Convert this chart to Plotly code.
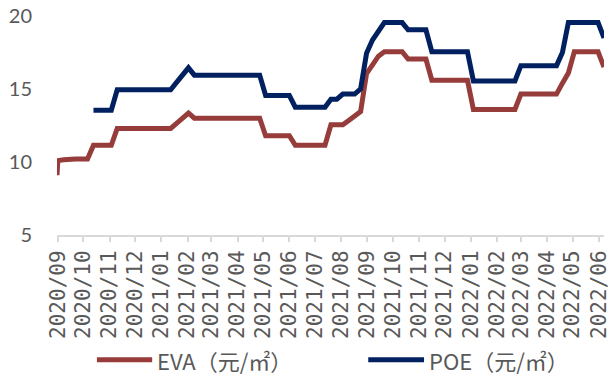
import pandas as pd
import plotly.graph_objects as go

# Weekly price observations (元/m²), one value per week starting 2020-09-01
week_dates = pd.date_range("2020-09-01", periods=93, freq="7D")

# EVA has one extra observation the day before the weekly series begins
eva_first_date = "2020-08-31"
eva_first_value = 9.1

eva_values = [
    10.1, 10.15, 10.2, 10.2, 10.2, 10.2,
    11.15, 11.15, 11.15, 11.15,
    12.3, 12.3, 12.3, 12.3, 12.3, 12.3, 12.3, 12.3, 12.3, 12.3,
    12.65, 13.0, 13.35,
    13.0, 13.0, 13.0, 13.0, 13.0, 13.0, 13.0, 13.0, 13.0, 13.0, 13.0, 13.0,
    11.8, 11.8, 11.8, 11.8, 11.8,
    11.15, 11.15, 11.15, 11.15, 11.15, 11.15,
    12.55, 12.55, 12.55,
    12.85, 13.2, 13.45,
    16.05,
    16.7, 17.25,
    17.55, 17.55, 17.55, 17.55,
    17.05, 17.05, 17.05, 17.05,
    15.6, 15.6, 15.6, 15.6, 15.6, 15.6, 15.6,
    13.6, 13.6, 13.6, 13.6, 13.6, 13.6, 13.6, 13.6,
    14.65, 14.65, 14.65, 14.65, 14.65, 14.65, 14.65,
    15.4, 16.1,
    17.55, 17.55, 17.55, 17.55, 17.55,
    16.5,
]

poe_values = [
    None, None, None, None, None, None,
    13.55, 13.55, 13.55, 13.55,
    14.95, 14.95, 14.95, 14.95, 14.95, 14.95, 14.95, 14.95, 14.95, 14.95,
    15.45, 15.95, 16.45,
    15.95, 15.95, 15.95, 15.95, 15.95, 15.95, 15.95, 15.95, 15.95, 15.95, 15.95, 15.95,
    14.55, 14.55, 14.55, 14.55, 14.55,
    13.75, 13.75, 13.75, 13.75, 13.75, 13.75,
    14.3, 14.3,
    14.65, 14.65, 14.65,
    15.0,
    17.45,
    18.35,
    19.0,
    19.55, 19.55, 19.55, 19.55,
    19.05, 19.05, 19.05, 19.05,
    17.55, 17.55, 17.55, 17.55, 17.55, 17.55, 17.55,
    15.55, 15.55, 15.55, 15.55, 15.55, 15.55, 15.55, 15.55,
    16.6, 16.6, 16.6, 16.6, 16.6, 16.6, 16.6,
    17.5,
    19.55, 19.55, 19.55, 19.55, 19.55, 19.55,
    18.5,
]

series_names = ["EVA（元/㎡）", "POE（元/㎡）"]
y_ticks = [5, 10, 15, 20]

EVA_COLOR = "#963C3A"
POE_COLOR = "#002060"
TEXT_COLOR = "#595959"
AXIS_COLOR = "#D9D9D9"

eva_dates = [pd.Timestamp(eva_first_date)] + list(week_dates)
eva_series = [eva_first_value] + eva_values

fig = go.Figure()
fig.add_trace(go.Scatter(
    x=eva_dates, y=eva_series, mode="lines", name=series_names[0],
    line=dict(color=EVA_COLOR, width=5), showlegend=False,
))
fig.add_trace(go.Scatter(
    x=week_dates, y=poe_values, mode="lines", name=series_names[1],
    line=dict(color=POE_COLOR, width=5), showlegend=False,
))

# Legend drawn below the axis: a short thick swatch followed by the label
legend_items = [
    (series_names[0], EVA_COLOR, 0.073, 0.174),
    (series_names[1], POE_COLOR, 0.569, 0.671),
]
legend_y = -0.57
for label, color, x0, x1 in legend_items:
    fig.add_shape(type="line", xref="paper", yref="paper",
                  x0=x0, x1=x1, y0=legend_y, y1=legend_y,
                  line=dict(color=color, width=5))
    fig.add_annotation(xref="paper", yref="paper", x=x1 + 0.006, y=legend_y,
                       text=label, showarrow=False, xanchor="left", yanchor="middle",
                       font=dict(family="Noto Sans CJK SC", size=22, color=TEXT_COLOR))

fig.update_layout(
    width=613, height=378,
    margin=dict(l=57, r=9, t=16, b=143),
    paper_bgcolor="white", plot_bgcolor="white",
    showlegend=False,
)
fig.update_xaxes(
    type="date", automargin=False,
    range=[eva_first_date, week_dates[-1]],
    tick0="2020-09-01", dtick="M1", tickformat="%Y/%m",
    tickangle=-90,
    ticks="outside", ticklen=5, tickwidth=1.5, tickcolor=AXIS_COLOR,
    showline=True, linecolor=AXIS_COLOR, linewidth=2,
    showgrid=False, zeroline=False,
    tickfont=dict(family="DejaVu Sans Mono", size=21, color=TEXT_COLOR),
)
fig.update_yaxes(
    automargin=False,
    range=[5, 20], tickvals=y_ticks,
    showgrid=False, zeroline=False, showline=False,
    ticks="outside", ticklen=20, tickcolor="rgba(0,0,0,0)",
    tickfont=dict(family="Lato", size=20, color=TEXT_COLOR),
)

fig.write_html("out.html")
